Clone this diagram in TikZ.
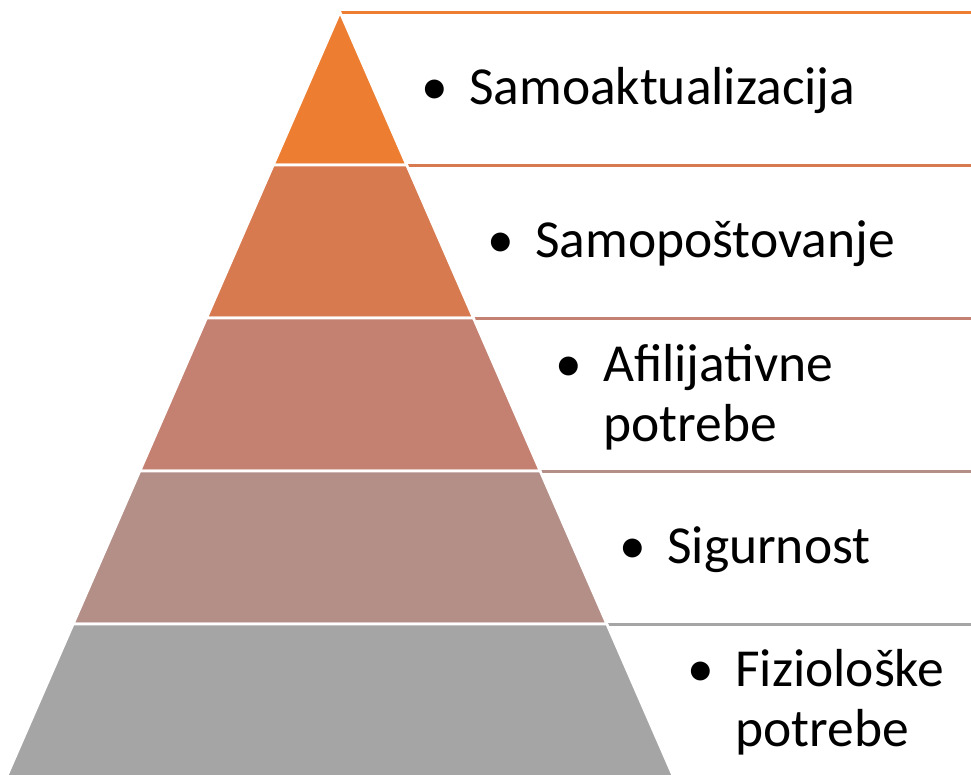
\documentclass[tikz,border=0pt]{standalone}
\usepackage{fontspec}
\setmainfont{Carlito}
\definecolor{lvA}{HTML}{ED7D31}
\definecolor{lvB}{HTML}{D87A50}
\definecolor{lvC}{HTML}{C48070}
\definecolor{lvD}{HTML}{B38F88}
\definecolor{lvE}{HTML}{A5A5A5}
\newcommand{\bul}{\makebox[48pt][l]{•}}
\tikzset{
  level/.style={draw=white, line width=2.6pt, line join=miter},
  rule/.style={line width=3pt},
  label/.style={anchor=base west, inner sep=0pt, font=\fontsize{53.5}{60}\selectfont}
}
\begin{document}
\begin{tikzpicture}[x=1pt, y=-1pt]
\useasboundingbox (0,0) rectangle (971,774);
% level boundaries
\coordinate (L0) at (340,12);   \coordinate (R0) at (340,12);
\coordinate (L1) at (273.3,165); \coordinate (R1) at (406.7,165);
\coordinate (L2) at (206.6,318); \coordinate (R2) at (473.4,318);
\coordinate (L3) at (139.9,471); \coordinate (R3) at (540.1,471);
\coordinate (L4) at (73.2,624);  \coordinate (R4) at (606.8,624);
\coordinate (L5) at (6.5,777);   \coordinate (R5) at (673.5,777);
\coordinate (E0) at (971,12);
\coordinate (E1) at (971,165);
\coordinate (E2) at (971,318);
\coordinate (E3) at (971,471);
\coordinate (E4) at (971,624);
% rules
\draw[rule, lvA] (R0) -- (E0);
\draw[rule, lvB] (R1) -- (E1);
\draw[rule, lvC] (R2) -- (E2);
\draw[rule, lvD] (R3) -- (E3);
\draw[rule, lvE] (R4) -- (E4);
% pyramid
\begin{scope}
\clip (0,0) rectangle (971,774);
\filldraw[level, fill=lvA] (L0) -- (L1) -- (R1) -- cycle;
\filldraw[level, fill=lvB] (L1) -- (L2) -- (R2) -- (R1) -- cycle;
\filldraw[level, fill=lvC] (L2) -- (L3) -- (R3) -- (R2) -- cycle;
\filldraw[level, fill=lvD] (L3) -- (L4) -- (R4) -- (R3) -- cycle;
\filldraw[level, fill=lvE] (L4) -- (L5) -- (R5) -- (R4) -- cycle;
\end{scope}
% texts
\node[label] (t1) at (421,104) {\begin{tabular}[t]{@{}l@{}l@{}}\bul & Samoaktualizacija\end{tabular}};
\node[label] (t2) at (487,257) {\begin{tabular}[t]{@{}l@{}l@{}}\bul & Samopoštovanje\end{tabular}};
\node[label] (t3) at (555,381) {\begin{tabular}[t]{@{}l@{}l@{}}\bul & Afilijativne\\ & potrebe\end{tabular}};
\node[label] (t4) at (619,563) {\begin{tabular}[t]{@{}l@{}l@{}}\bul & Sigurnost\end{tabular}};
\node[label] (t5) at (687,686) {\begin{tabular}[t]{@{}l@{}l@{}}\bul & Fiziološke\\ & potrebe\end{tabular}};
\end{tikzpicture}
\end{document}
